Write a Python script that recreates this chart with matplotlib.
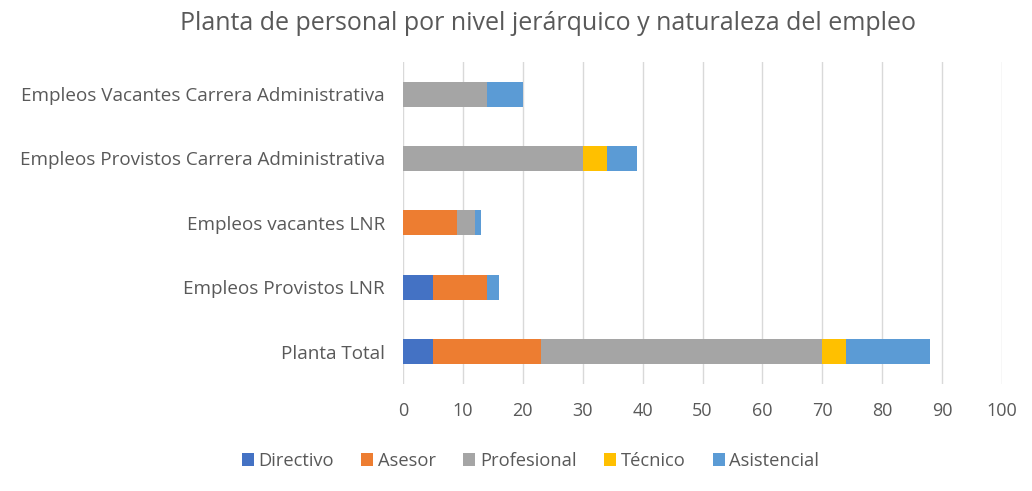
import numpy as np
import matplotlib.pyplot as plt

plt.rcParams['font.family'] = ['Open Sans', 'DejaVu Sans']

categories = ['Planta Total', 'Empleos Provistos LNR', 'Empleos vacantes LNR',
              'Empleos Provistos Carrera Administrativa',
              'Empleos Vacantes Carrera Administrativa']
series = ['Directivo', 'Asesor', 'Profesional', 'Técnico', 'Asistencial']
directivo = [5, 5, 0, 0, 0]
asesor = [18, 9, 9, 0, 0]
profesional = [47, 0, 3, 30, 14]
tecnico = [4, 0, 0, 4, 0]
asistencial = [14, 2, 1, 5, 6]
colors = ['#4472C4', '#ED7D31', '#A5A5A5', '#FFC000', '#5B9BD5']

text_color = '#595959'

fig = plt.figure(figsize=(10.32, 4.91), dpi=100)
ax = fig.add_axes([0.3905, 0.218, 0.5805, 0.656])

y = np.arange(len(categories))
left = np.zeros(len(categories))
for name, vals, c in zip(series, [directivo, asesor, profesional, tecnico, asistencial], colors):
    ax.barh(y, vals, left=left, height=0.39, color=c, label=name, zorder=3)
    left += np.array(vals)

ax.set_xlim(0, 100)
ax.set_ylim(-0.5, len(categories) - 0.5)
ax.set_xticks(np.arange(0, 101, 10))
ax.set_yticks(y)
ax.set_yticklabels(categories, fontsize=13.6)
ax.grid(axis='x', color='#D9D9D9', linewidth=1, zorder=0)
for s in ax.spines.values():
    s.set_visible(False)
ax.tick_params(axis='both', length=0, colors=text_color)
ax.tick_params(axis='x', labelsize=13, pad=13)
ax.tick_params(axis='y', pad=13)

fig.text(0.531, 0.953, 'Planta de personal por nivel jerárquico y naturaleza del empleo',
         ha='center', va='center', fontsize=18, color=text_color)

leg = fig.legend(loc='center', bbox_to_anchor=(0.514, 0.061), ncol=5, frameon=False,
                 fontsize=13.2, handlelength=0.65, handleheight=0.65, handletextpad=0.25,
                 columnspacing=1.5)
for t in leg.get_texts():
    t.set_color(text_color)

fig.savefig('out.png', dpi=100, facecolor='white')
